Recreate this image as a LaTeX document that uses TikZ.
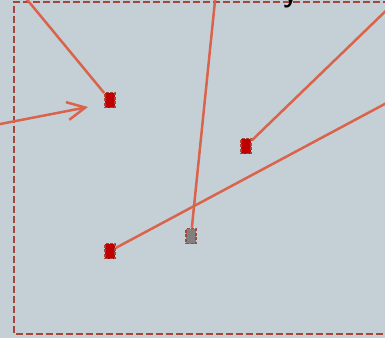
\documentclass[tikz,border=0pt]{standalone}
\usetikzlibrary{arrows.meta}
\definecolor{bgc}{HTML}{C5D0D6}
\definecolor{framec}{HTML}{A3473A}
\definecolor{linec}{HTML}{D9644B}
\definecolor{redfill}{HTML}{C00000}
\definecolor{grayfill}{HTML}{808080}
\tikzset{
  frame/.style={draw=framec, line width=2.2pt, dash pattern=on 7pt off 3pt},
  conn/.style={draw=linec, line width=2.5pt},
  marker/.style={draw=framec, dash pattern=on 3pt off 1.5pt, line width=1.5pt, minimum width=10pt, minimum height=15pt, inner sep=0pt, fill=redfill},
  graymarker/.style={marker, fill=grayfill},
}
\begin{document}
\begin{tikzpicture}[x=1pt,y=-1pt]
\useasboundingbox (0,0) rectangle (385,338);
\fill[bgc] (0,0) rectangle (385,338);
\draw[frame] (400,2) -- (14,2) -- (14,334) -- (400,334);
\node[anchor=base, font=\sffamily\bfseries\fontsize{27}{27}\selectfont] (ytext) at (290,2.5) {y};
\node[marker] (a) at (110,100) {};
\node[marker] (b) at (246,146) {};
\node[marker] (c) at (110,251) {};
\node[graymarker] (d) at (191,236) {};
\coordinate (sa) at (20,-9);
\coordinate (sd) at (216,-9);
\coordinate (sb) at (395,2);
\coordinate (sc) at (395,98.5);
\coordinate (arrs) at (-10,126);
\coordinate (arre) at (88,107);
\draw[conn] (sa) -- (a);
\draw[conn] (sd) -- (d);
\draw[conn] (sb) -- (b);
\draw[conn] (sc) -- (c);
\draw[conn, -{Straight Barb[length=18pt, width=18pt, line width=2.5pt]}] (arrs) -- (arre);
\end{tikzpicture}
\end{document}
